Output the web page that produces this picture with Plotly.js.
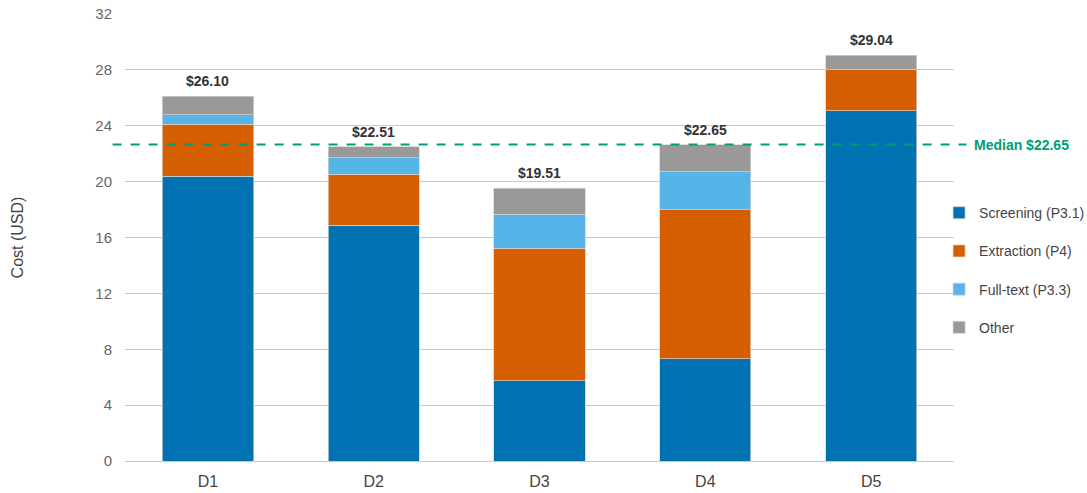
<!DOCTYPE html>
<html>
<head>
<meta charset="utf-8">
<script src="https://cdn.plot.ly/plotly-3.0.1.min.js"></script>
<style>html,body{margin:0;padding:0;background:#fff;}#chart{width:1087px;height:493px;}</style>
</head>
<body>
<div id="chart"></div>
<script>
const categories = ["D1", "D2", "D3", "D4", "D5"];
const screening = [20.40, 16.86, 5.75, 7.32, 25.08];
const extraction = [3.70, 3.67, 9.49, 10.68, 2.92];
const fulltext = [0.70, 1.19, 2.41, 2.70, 0.00];
const other = [1.30, 0.79, 1.86, 1.95, 1.04];
const totals = [26.10, 22.51, 19.51, 22.65, 29.04];
const totalLabels = ["$26.10", "$22.51", "$19.51", "$22.65", "$29.04"];
const medianValue = 22.65;
const medianLabel = "Median $22.65";
const seriesNames = ["Screening (P3.1)", "Extraction (P4)", "Full-text (P3.3)", "Other"];
const seriesColors = ["#0072B2", "#D55E00", "#56B4E9", "#999999"];
const seriesValues = [screening, extraction, fulltext, other];

const font = "Liberation Sans, Arial, Helvetica, sans-serif";

const traces = seriesValues.map((vals, i) => ({
  type: "bar",
  name: seriesNames[i],
  x: categories,
  y: vals,
  legendgroup: "g" + i,
  marker: {color: seriesColors[i], line: {color: "rgba(210,210,210,0.9)", width: 0.8}},
  hoverinfo: "x+y+name"
}));

const annotations = categories.map((c, i) => ({
  x: c, y: totals[i], xref: "x", yref: "y",
  text: "<b>" + totalLabels[i] + "</b>",
  showarrow: false, yanchor: "bottom", yshift: 5,
  font: {family: font, size: 14, color: "#333333"}
}));
annotations.push({
  x: 1.022, xref: "paper", y: medianValue, yref: "y",
  text: "<b>" + medianLabel + "</b>", showarrow: false,
  xanchor: "left", yanchor: "middle",
  font: {family: font, size: 14, color: "#009E73"}
});

const layout = {
  width: 1087, height: 493,
  margin: {l: 124.5, r: 132.5, t: 13.7, b: 32, autoexpand: false},
  barmode: "stack",
  bargap: 0.45,
  paper_bgcolor: "#ffffff",
  plot_bgcolor: "#ffffff",
  font: {family: font, color: "#555555"},
  xaxis: {
    type: "category",
    showgrid: false, showline: false, zeroline: false,
    tickfont: {family: font, size: 16, color: "#444444"},
    ticks: "", ticklabelstandoff: 9
  },
  yaxis: {
    range: [0, 32], dtick: 4, tick0: 0,
    showgrid: true, gridcolor: "#c8c8c8", gridwidth: 1,
    zeroline: true, zerolinecolor: "#c8c8c8", zerolinewidth: 1,
    showline: false,
    tickfont: {family: font, size: 15, color: "#666666"},
    ticks: "", ticklabelstandoff: 12,
    title: {text: "Cost (USD)", font: {family: font, size: 16, color: "#444444"}, standoff: 67},
    automargin: false
  },
  legend: {
    x: 0.982, xanchor: "left", y: 0.427, yanchor: "middle",
    xref: "paper", yref: "paper",
    font: {family: font, size: 14, color: "#444444"},
    tracegroupgap: 17,
    traceorder: "grouped",
    bgcolor: "rgba(0,0,0,0)"
  },
  shapes: [{
    type: "line", xref: "paper", yref: "y",
    x0: -0.015, x1: 1.015, y0: medianValue, y1: medianValue,
    line: {color: "#009E73", width: 2, dash: "dash"}
  }],
  annotations: annotations
};

Plotly.newPlot("chart", traces, layout, {displayModeBar: false, staticPlot: true});
</script>
</body>
</html>
